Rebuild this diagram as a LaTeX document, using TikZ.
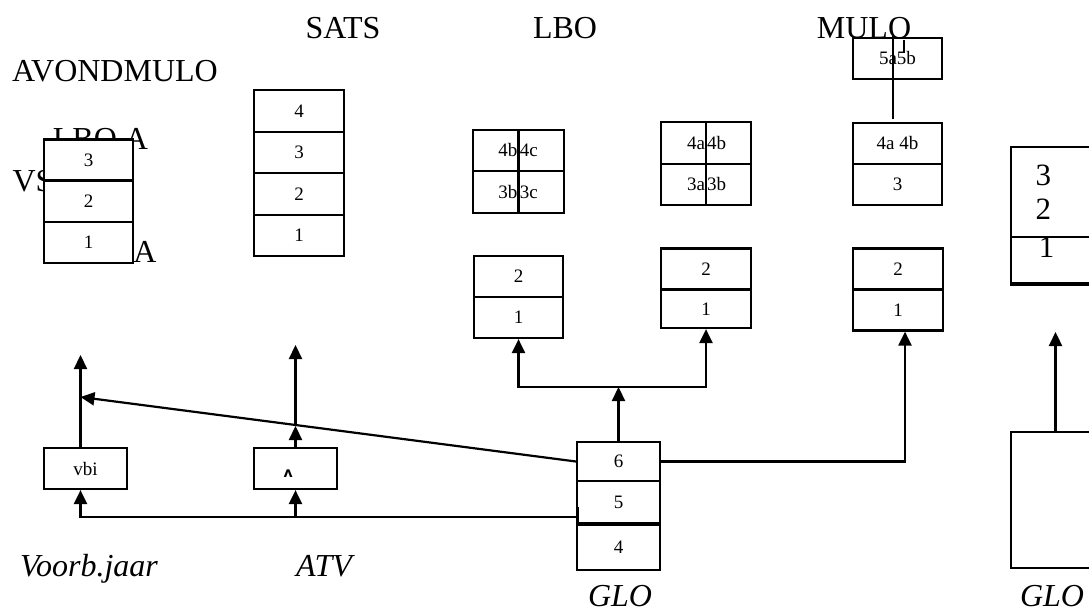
\documentclass[tikz,border=0pt]{standalone}
\usepackage{fontspec}
\setmainfont{Liberation Serif}
\newfontfamily\ipafont{DejaVu Sans}
\usetikzlibrary{arrows.meta}

\begin{document}
\begin{tikzpicture}[x=1pt,y=-1pt]
\tikzstyle{cell}=[rectangle,draw,fill=white,line width=2.2pt,minimum width=89pt,minimum height=41pt,inner sep=0pt,font=\fontsize{19}{22}\selectfont]
\tikzstyle{half}=[cell,minimum width=45.5pt,minimum height=41.5pt,text width=43pt]
\tikzstyle{lefthalf}=[half,align=right]
\tikzstyle{righthalf}=[half,align=left]
\tikzstyle{title}=[inner sep=0pt,font=\fontsize{32}{34}\selectfont]
\tikzstyle{school}=[title,anchor=base,font=\fontsize{32}{34}\selectfont\itshape]
\tikzstyle{arr}=[-{Triangle[length=14pt,width=13pt]},line width=2.2pt]
\tikzstyle{wire}=[line width=2.2pt]

\useasboundingbox (0,0) rectangle (1089,612);

%headings.
\node[title] (sats) at (343,28) {SATS};
\node[title] (lbo) at (565,28) {LBO};
\node[title] (mulo) at (864,28) {MULO};
\node[title] (avond) at (115,71) {AVONDMULO};
\node[title] (lboa) at (100.5,139) {LBO A};
\node[title] (vs) at (33,181.5) {VS};
\node[title] (lasta) at (145,252) {A};

%avondmulo stack.
\node[cell] (av3) at (88.5,160) {3};
\node[cell] (av2) at (88.5,201.5) {2};
\node[cell] (av1) at (88.5,242.5) {1};

%sats stack.
\node[cell,minimum width=90pt,minimum height=41.5pt] (s4) at (299,111) {4};
\node[cell,minimum width=90pt,minimum height=41.5pt] (s3) at (299,152.5) {3};
\node[cell,minimum width=90pt,minimum height=41.5pt] (s2) at (299,194) {2};
\node[cell,minimum width=90pt,minimum height=41.5pt] (s1) at (299,235.5) {1};

%lbo grids.
\node[lefthalf] (lb4b) at (495.75,150.5) {4b};
\node[righthalf] (lb4c) at (541.25,150.5) {4c};
\node[lefthalf] (lb3b) at (495.75,192) {3b};
\node[righthalf] (lb3c) at (541.25,192) {3c};

\node[lefthalf,minimum width=45pt] (la4a) at (683.5,143) {4a};
\node[righthalf,minimum width=45pt] (la4b) at (728.5,143) {4b};
\node[lefthalf,minimum width=45pt] (la3a) at (683.5,184.5) {3a};
\node[righthalf,minimum width=45pt] (la3b) at (728.5,184.5) {3b};

%mulo upper boxes.
\node[cell] (m5) at (897.5,58.5) {5a5b};
\node[cell] (m4) at (897.5,143.5) {4a 4b};
\node[cell] (m3) at (897.5,184.5) {3};
\coordinate (mtop) at (893,36);
\coordinate (mbot) at (893,119);
\draw[wire] (mtop) -- (mbot);
\draw[wire] (904,40) -- (904,53);

%lower boxes.
\node[cell] (lboL2) at (518.5,276.5) {2};
\node[cell] (lboL1) at (518.5,317.5) {1};
\node[cell,minimum width=90pt] (lboR2) at (706,269) {2};
\node[cell,minimum width=90pt,minimum height=38pt] (lboR1) at (706,309) {1};
\node[cell,minimum width=90pt] (mulo2) at (898,269) {2};
\node[cell,minimum width=90pt] (mulo1) at (898,310) {1};

%right edge.
\node[cell,minimum height=90pt,text width=40pt,align=left,font=\fontsize{31}{34}\selectfont] (r32) at (1055.5,192) {3\\2};
\node[cell,minimum height=46pt,text depth=26pt,font=\fontsize{31}{34}\selectfont] (r1) at (1055.5,260) {\hspace*{-18pt}1};
\draw[line width=3.5pt] (r1.south west) -- (r1.south east);
\node[cell,minimum height=136pt] (rglo) at (1055.5,500) {};

%bottom row.
\node[cell,minimum width=83pt] (vbi) at (85.5,468.5) {vbi};
\node[cell,minimum width=83pt,text width=24pt,align=left,text height=17pt,text depth=0pt] (atv) at (295.5,468.5) {\ipafont\bfseries\fontsize{14}{14}\selectfont ʌ};
\node[cell,minimum width=83pt,minimum height=39pt] (g6) at (618.5,461.5) {6};
\node[cell,minimum width=83pt,minimum height=41.5pt] (g5) at (618.5,502) {5};
\node[cell,minimum width=83pt,minimum height=45pt] (g4) at (618.5,547.5) {4};

\node[school] (voorb) at (89,576) {Voorb.jaar};
\node[school] (atvlab) at (324,576) {ATV};
\node[school] (glo) at (620,606) {GLO};
\node[school] (rglolab) at (1052,606) {GLO};

%connectors.
\coordinate (split) at (g6.north |- 0,387);
\draw[arr] (g6.north) -- (split);
\draw[arr] (split) -| (lboL1.south);
\draw[arr] (split) -| (lboR1.south);
\draw[arr] (g6.east) -| ([xshift=7pt]mulo1.south);

\coordinate (vbifoot) at ([xshift=-5pt]vbi.south);
\coordinate (vbihead) at ([xshift=-5pt]vbi.north);
\coordinate (vbitop) at (vbihead |- 0,355);
\coordinate (vbihit) at (vbihead |- 0,397);
\draw[arr] (vbihead) -- (vbitop);
\draw[arr] (g6.west) -- (vbihit);

\coordinate (atvmid) at (atv.north |- 0,426);
\coordinate (atvtop) at (atv.north |- 0,345);
\draw[arr] (atv.north) -- (atvmid);
\draw[arr] (atvmid) -- (atvtop);

\coordinate (feedend) at ([xshift=2pt,yshift=-15pt]g5.west);
\draw[wire] ([yshift=10pt]feedend) -- ([yshift=-5pt]feedend);
\draw[arr] (feedend) -- (vbifoot |- feedend) -- (vbifoot);
\draw[arr] (atv.south |- feedend) -- (atv.south);

\coordinate (rtop) at (rglo.north |- 0,332);
\draw[arr] (rglo.north) -- (rtop);

\end{tikzpicture}
\end{document}
